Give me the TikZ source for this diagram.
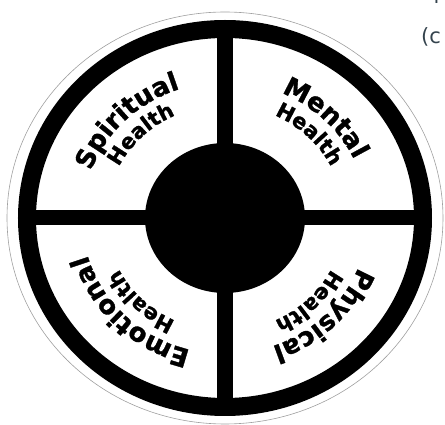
\documentclass[tikz,border=0pt]{standalone}
\usepackage{fontspec}
\newfontfamily\wheelfont{DejaVu Sans Bold}[FakeBold=1.2]
\newfontfamily\notefont{DejaVu Sans}
\usetikzlibrary{decorations.text}
\definecolor{slate}{HTML}{34434D}
\tikzset{
  rim/.style={draw=gray!75,line width=0.6pt},
  ring/.style={draw=black,line width=18pt},
  spoke/.style={fill=black},
  hub/.style={fill=black},
  word/.style={decorate,decoration={text along path,text align=center,
    text={|\wheelfont\fontsize{26}{26}\selectfont|#1}}},
  sub/.style={decorate,decoration={text along path,text align=center,
    text={|\wheelfont\fontsize{21}{21}\selectfont|#1}}},
  note/.style={font=\notefont\fontsize{21}{21}\selectfont,text=slate,
    inner sep=0pt,anchor=base west},
}
\begin{document}
\begin{tikzpicture}[x=1pt,y=1pt]
\useasboundingbox (-225,-207) rectangle (220,218);
% wheel
\draw[rim] (0,0) ellipse[x radius=218,y radius=206];
\draw[ring] (0,0) ellipse[x radius=198,y radius=189];
\fill[spoke] (-8,-189) rectangle (8,189);
\fill[spoke] (-198,-7.5) rectangle (198,7.5);
\fill[hub] (0,0) ellipse[x radius=80,y radius=75];
% quadrant words
\path[word=Spiritual] (205:143 and 136) arc[start angle=205,end angle=65,x radius=143,y radius=136];
\path[sub=Health] (205:119 and 113) arc[start angle=205,end angle=65,x radius=119,y radius=113];
\path[word=Mental] (115:143 and 136) arc[start angle=115,end angle=-25,x radius=143,y radius=136];
\path[sub=Health] (115:119 and 113) arc[start angle=115,end angle=-25,x radius=119,y radius=113];
\path[word=Physical] (25:143 and 136) arc[start angle=25,end angle=-115,x radius=143,y radius=136];
\path[sub=Health] (25:119 and 113) arc[start angle=25,end angle=-115,x radius=119,y radius=113];
\path[word=Emotional] (-65:143 and 136) arc[start angle=-65,end angle=-205,x radius=143,y radius=136];
\path[sub=Health] (-65:119 and 113) arc[start angle=-65,end angle=-205,x radius=119,y radius=113];
% cut-off text at the edge
\node[note] (topline) at (208.5,214) {l};
\node[note] (paren) at (196,174) {(c};
\end{tikzpicture}
\end{document}
